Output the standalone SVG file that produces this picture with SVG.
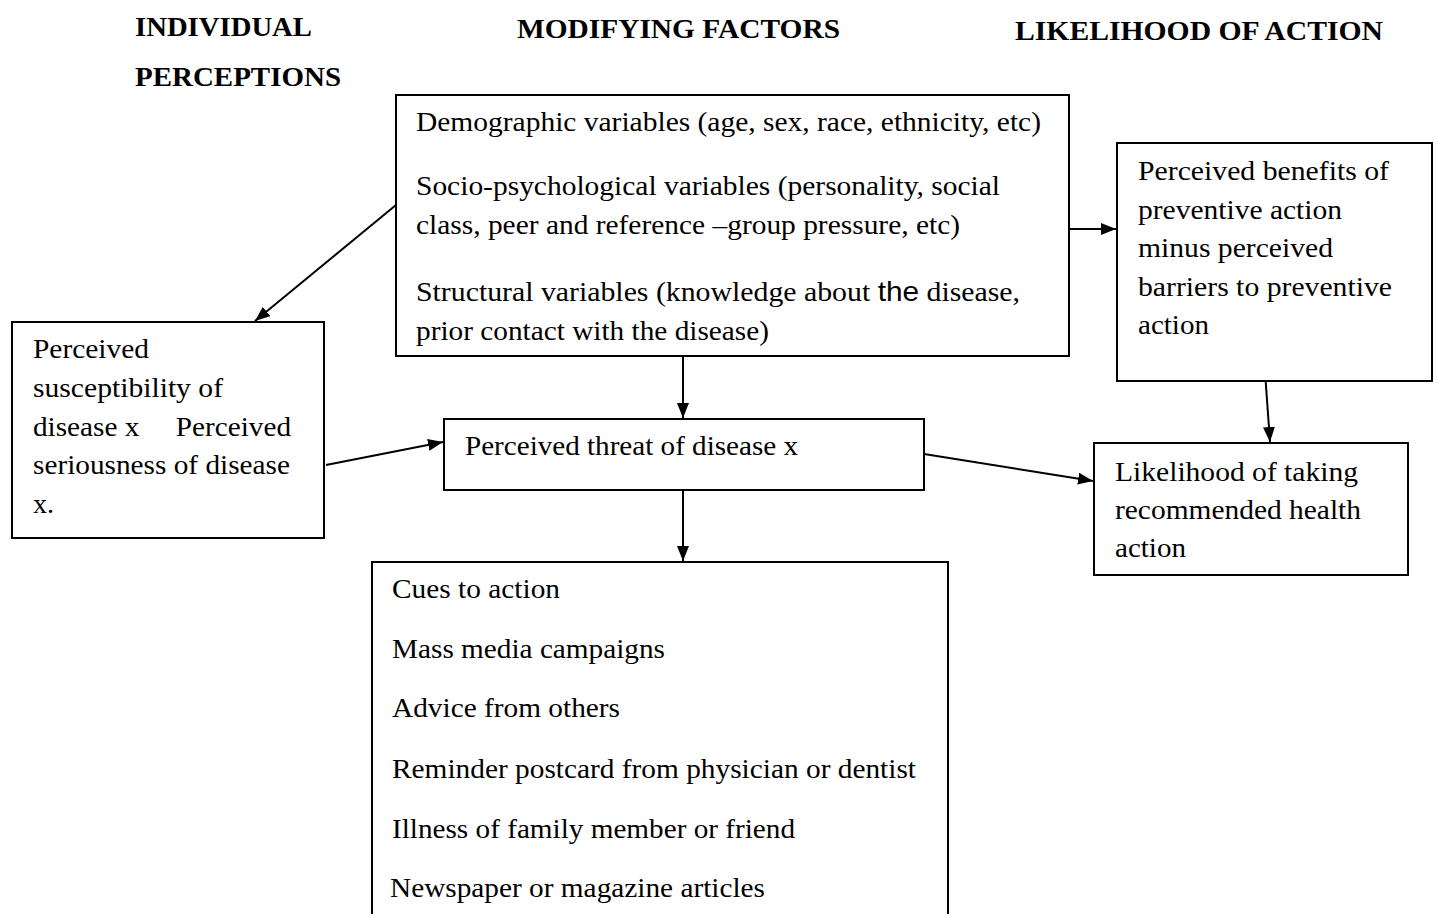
<svg xmlns="http://www.w3.org/2000/svg" width="1437" height="914" viewBox="0 0 1437 914">
<style>
.box{fill:#fff;stroke:#000;stroke-width:2}
.t{font-family:"Liberation Serif","Times New Roman",serif;font-size:28px;fill:#000}
.h{font-family:"Liberation Serif","Times New Roman",serif;font-size:28px;font-weight:bold;fill:#000}
.c{stroke:#000;stroke-width:2;fill:none;marker-end:url(#ah)}
</style>
<defs>
<marker id="ah" viewBox="0 0 10 10" refX="10" refY="5" markerWidth="15" markerHeight="12" markerUnits="userSpaceOnUse" orient="auto" preserveAspectRatio="none">
<path d="M0,0 L10,5 L0,10 z" fill="#000"/>
</marker>
</defs>
<rect width="1437" height="914" fill="#fff"/>
<g id="headers">
<text class="h" x="135" y="36" textLength="177" lengthAdjust="spacingAndGlyphs">INDIVIDUAL</text>
<text class="h" x="135" y="86" textLength="206" lengthAdjust="spacingAndGlyphs">PERCEPTIONS</text>
<text class="h" x="517" y="38" textLength="323" lengthAdjust="spacingAndGlyphs">MODIFYING FACTORS</text>
<text class="h" x="1015" y="40" textLength="368" lengthAdjust="spacingAndGlyphs">LIKELIHOOD OF ACTION</text>
</g>
<g id="connectors">
<line class="c" x1="396" y1="205" x2="255" y2="321"/>
<line class="c" x1="683" y1="356" x2="683" y2="418"/>
<line class="c" x1="326" y1="465" x2="443" y2="442"/>
<line class="c" x1="683" y1="490" x2="683" y2="561"/>
<line class="c" x1="1069" y1="229" x2="1116" y2="229"/>
<line class="c" x1="924" y1="454" x2="1093" y2="481"/>
<line class="c" x1="1265" y1="372" x2="1270" y2="442"/>
</g>
<g id="modifying">
<rect class="box" x="396" y="95" width="673" height="261"/>
<text class="t" x="416" y="131" textLength="625" lengthAdjust="spacingAndGlyphs">Demographic variables (age, sex, race, ethnicity, etc)</text>
<text class="t" x="416" y="195" textLength="584" lengthAdjust="spacingAndGlyphs">Socio-psychological variables (personality, social</text>
<text class="t" x="416" y="234" textLength="544" lengthAdjust="spacingAndGlyphs">class, peer and reference –group pressure, etc)</text>
<text class="t" x="416" y="301" textLength="604" lengthAdjust="spacingAndGlyphs">Structural variables (knowledge about <tspan font-family="Liberation Sans, Arial, sans-serif">the</tspan> disease,</text>
<text class="t" x="416" y="340" textLength="353" lengthAdjust="spacingAndGlyphs">prior contact with the disease)</text>
</g>
<g id="individual">
<rect class="box" x="12" y="322" width="312" height="216"/>
<text class="t" x="33" y="358" textLength="116" lengthAdjust="spacingAndGlyphs">Perceived</text>
<text class="t" x="33" y="397" textLength="190" lengthAdjust="spacingAndGlyphs">susceptibility of</text>
<text class="t" x="33" y="436" textLength="258" lengthAdjust="spacingAndGlyphs" xml:space="preserve">disease x     Perceived</text>
<text class="t" x="33" y="474" textLength="257" lengthAdjust="spacingAndGlyphs">seriousness of disease</text>
<text class="t" x="33" y="513">x.</text>
</g>
<g id="threat">
<rect class="box" x="444" y="419" width="480" height="71"/>
<text class="t" x="465" y="455" textLength="333" lengthAdjust="spacingAndGlyphs">Perceived threat of disease x</text>
</g>
<g id="benefits">
<rect class="box" x="1117" y="143" width="315" height="238"/>
<text class="t" x="1138" y="180" textLength="251" lengthAdjust="spacingAndGlyphs">Perceived benefits of</text>
<text class="t" x="1138" y="219" textLength="204" lengthAdjust="spacingAndGlyphs">preventive action</text>
<text class="t" x="1138" y="257" textLength="195" lengthAdjust="spacingAndGlyphs">minus perceived</text>
<text class="t" x="1138" y="296" textLength="254" lengthAdjust="spacingAndGlyphs">barriers to preventive</text>
<text class="t" x="1138" y="334" textLength="71" lengthAdjust="spacingAndGlyphs">action</text>
</g>
<g id="likelihood">
<rect class="box" x="1094" y="443" width="314" height="132"/>
<text class="t" x="1115" y="481" textLength="243" lengthAdjust="spacingAndGlyphs">Likelihood of taking</text>
<text class="t" x="1115" y="519" textLength="246" lengthAdjust="spacingAndGlyphs">recommended health</text>
<text class="t" x="1115" y="557" textLength="71" lengthAdjust="spacingAndGlyphs">action</text>
</g>
<g id="cues">
<rect class="box" x="372" y="562" width="576" height="380"/>
<text class="t" x="392" y="598" textLength="168" lengthAdjust="spacingAndGlyphs">Cues to action</text>
<text class="t" x="392" y="658" textLength="273" lengthAdjust="spacingAndGlyphs">Mass media campaigns</text>
<text class="t" x="392" y="717" textLength="228" lengthAdjust="spacingAndGlyphs">Advice from others</text>
<text class="t" x="392" y="778" textLength="524" lengthAdjust="spacingAndGlyphs">Reminder postcard from physician or dentist</text>
<text class="t" x="392" y="838" textLength="403" lengthAdjust="spacingAndGlyphs">Illness of family member or friend</text>
<text class="t" x="390" y="897" textLength="375" lengthAdjust="spacingAndGlyphs">Newspaper or magazine articles</text>
</g>
</svg>
